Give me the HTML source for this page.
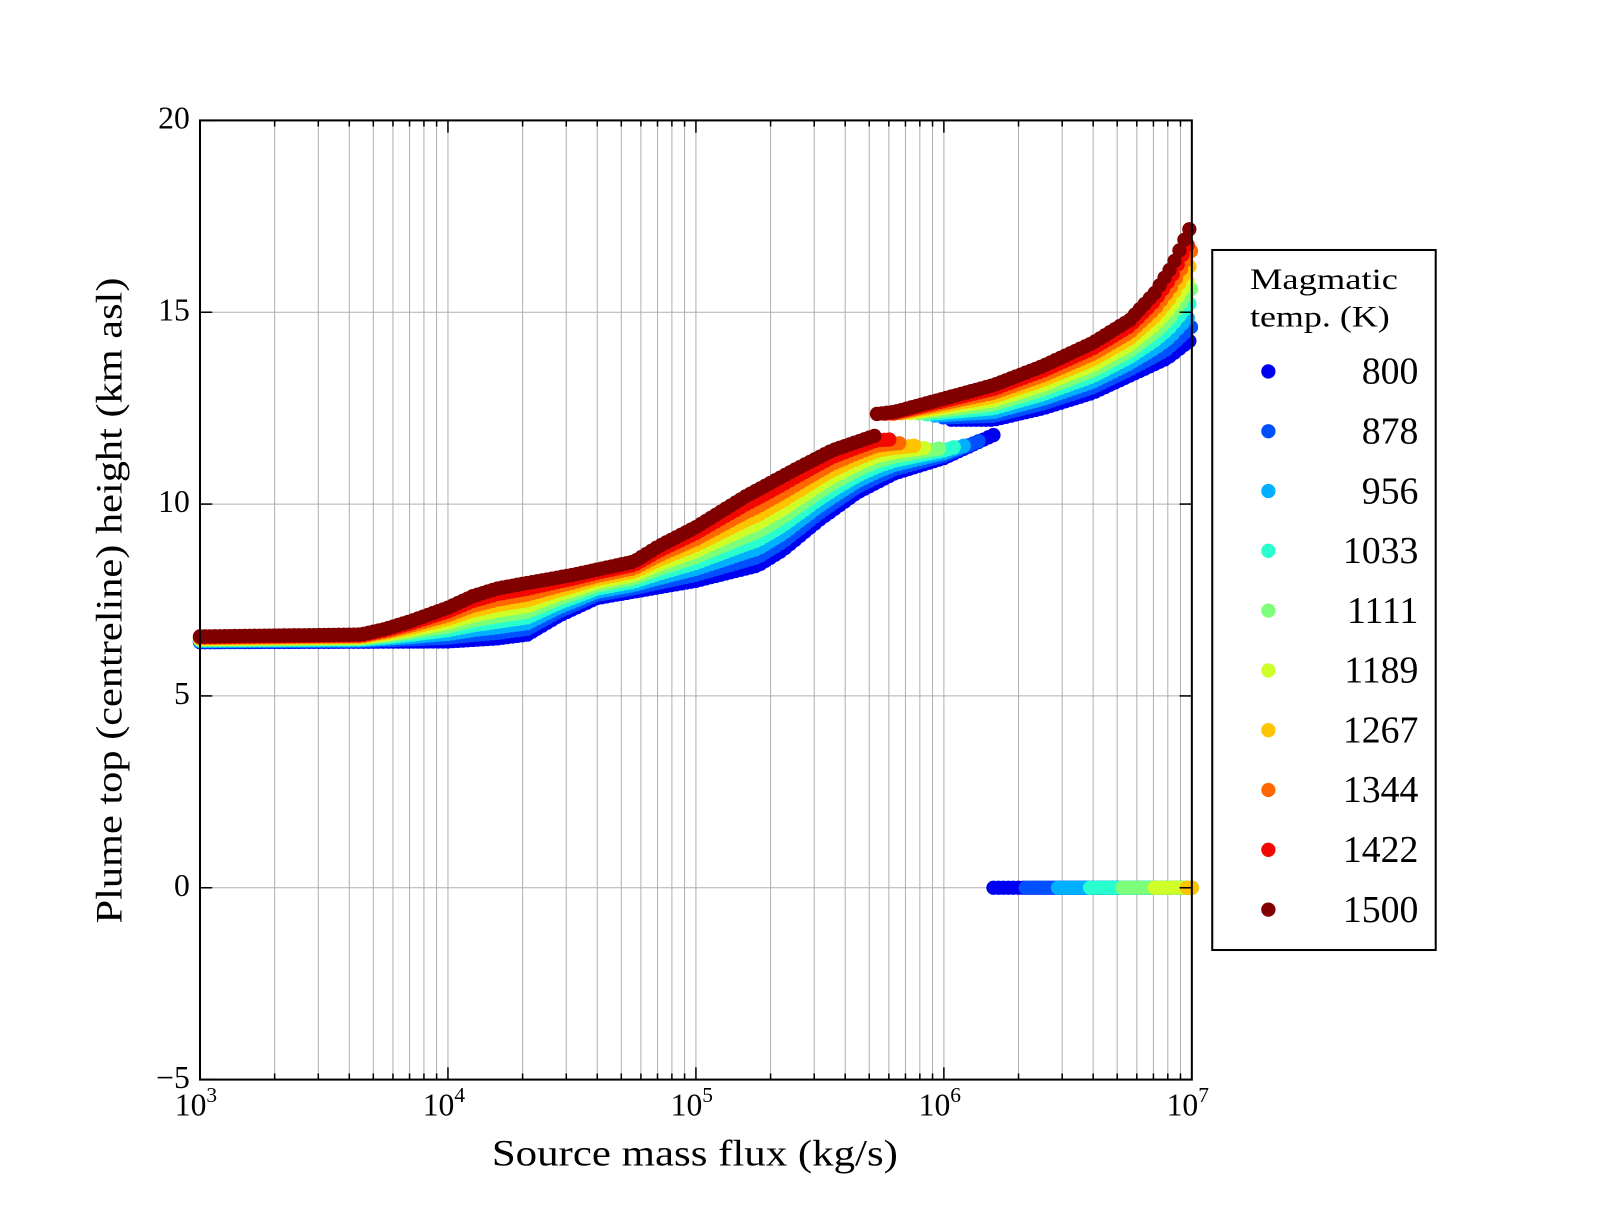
<!DOCTYPE html>
<html><head><meta charset="utf-8">
<style>
html,body{margin:0;padding:0;background:#fff;}
svg text{font-family:"Liberation Serif",serif;fill:#000;}
</style></head>
<body>
<svg id="s" width="1600" height="1200" xmlns="http://www.w3.org/2000/svg">
<rect width="1600" height="1200" fill="#fff"/>
<g transform="scale(1.020408)">
<g id="grid" stroke="#b0b0b0" stroke-width="1"></g>
<g id="data"></g>
<rect x="196" y="118" width="972" height="940" fill="none" stroke="#000" stroke-width="2"/>
<g id="ticks" stroke="#000" stroke-width="1.5"></g>
<g font-size="31" text-anchor="end">
<text x="186" y="126">20</text>
<text x="186" y="314">15</text>
<text x="186" y="502">10</text>
<text x="186" y="690">5</text>
<text x="186" y="878">0</text>
<text x="186" y="1066">−5</text>
</g>
<g font-size="31" text-anchor="middle">
<text x="192" y="1093">10<tspan font-size="21" dy="-13">3</tspan></text>
<text x="435" y="1093">10<tspan font-size="21" dy="-13">4</tspan></text>
<text x="678" y="1093">10<tspan font-size="21" dy="-13">5</tspan></text>
<text x="921" y="1093">10<tspan font-size="21" dy="-13">6</tspan></text>
<text x="1164" y="1093">10<tspan font-size="21" dy="-13">7</tspan></text>
</g>
<text x="482" y="1142" font-size="36" textLength="398" lengthAdjust="spacingAndGlyphs">Source mass flux (kg/s)</text>
<text transform="translate(119,905) rotate(-90)" font-size="36" textLength="633" lengthAdjust="spacingAndGlyphs">Plume top (centreline) height (km asl)</text>
<rect x="1188" y="245" width="219" height="686" fill="#fff" stroke="#000" stroke-width="2"/>
<text x="1225" y="283" font-size="29" textLength="145" lengthAdjust="spacingAndGlyphs">Magmatic</text>
<text x="1225" y="320" font-size="29" textLength="137" lengthAdjust="spacingAndGlyphs">temp. (K)</text>
<g id="leg" font-size="37" text-anchor="end"></g>
</g>
</svg>
<script>
var NS="http://www.w3.org/2000/svg";
function el(p,t,a){var e=document.createElementNS(NS,t);for(var k in a)e.setAttribute(k,a[k]);p.appendChild(e);return e;}
function X(l){return 196+(l-3)*243;}
function Y(v){return 870-v*37.6;}
var g=document.getElementById('grid'),tk=document.getElementById('ticks');
for(var d=3;d<7;d++)for(var m=1;m<=9;m++){var x=X(d+Math.log10(m));if(m>1||d>3){el(g,'line',{x1:x,x2:x,y1:118,y2:1058});}
var L=m==1?12:6;el(tk,'line',{x1:x,x2:x,y1:1058,y2:1058-L});el(tk,'line',{x1:x,x2:x,y1:118,y2:118+L});}
for(var v=-5;v<=20;v+=5){var y=Y(v);if(v>-5&&v<20)el(g,'line',{x1:196,x2:1168,y1:y,y2:y});el(tk,'line',{x1:196,x2:208,y1:y,y2:y});el(tk,'line',{x1:1168,x2:1156,y1:y,y2:y});}
var cols=["#0000f1","#0050ff","#00b0ff","#29ffce","#7dff7a","#ceff29","#ffc400","#ff6800","#f10800","#800000"];
var labs=["800","878","956","1033","1111","1189","1267","1344","1422","1500"];
var lg=document.getElementById('leg');
for(var i=0;i<10;i++){var y=364+i*58.6;el(lg,'circle',{cx:1243,cy:y,r:7,fill:cols[i]});var t=el(lg,'text',{x:1390,y:y+12});t.textContent=labs[i];}
function interp(pts,l){for(var i=0;i<pts.length-1;i++){if(l<=pts[i+1][0]){var a=pts[i],b=pts[i+1];return a[1]+(b[1]-a[1])*(l-a[0])/(b[0]-a[0]);}}return pts[pts.length-1][1];}
var hiL=[[3,6.55],[3.65,6.6],[3.75,6.75],[3.85,6.95],[4.0,7.3],[4.1,7.6],[4.2,7.8],[4.3,7.92],[4.5,8.15],[4.75,8.5],[4.85,8.9],[5.0,9.4],[5.2,10.2],[5.4,10.9],[5.55,11.4],[5.73,11.8]];
var loL=[[3,6.4],[4.0,6.42],[4.2,6.5],[4.32,6.6],[4.45,7.1],[4.6,7.55],[5.0,8.0],[5.25,8.4],[5.35,8.8],[5.5,9.6],[5.65,10.3],[5.8,10.8],[6.0,11.2],[6.2,11.8]];
var hiR=[[5.73,12.35],[5.8,12.4],[6.0,12.75],[6.2,13.1],[6.4,13.6],[6.6,14.2],[6.75,14.8],[6.85,15.5],[6.92,16.2],[7.0,17.3]];
var loR=[[5.73,12.2],[6.2,12.2],[6.4,12.5],[6.6,12.9],[6.8,13.5],[6.9,13.8],[7.0,14.3]];
var D=document.getElementById('data');
for(var i=0;i<10;i++){var f=i/9;var c=cols[i];
 var endL=6.2-(6.2-5.73)*f;
 for(var l=3;l<=endL+1e-6;l+=0.02){var v=interp(loL,l)*(1-f)+interp(hiL,Math.min(l,5.73))*f;el(D,'circle',{cx:X(l),cy:Y(v),r:7,fill:c});}
 var startR=5.73+(1-f)*0.3;
 for(var l=startR;l<=7.0001;l+=0.02){var v=interp(loR,l)*(1-f)+interp(hiR,l)*f;el(D,'circle',{cx:X(l),cy:Y(v),r:7,fill:c});}
 if(i<=6){var z0=6.2+i*0.13;for(var l=z0;l<=7.0001;l+=0.02){el(D,'circle',{cx:X(l),cy:Y(0),r:7,fill:c});}}
}
</script>
</body></html>
